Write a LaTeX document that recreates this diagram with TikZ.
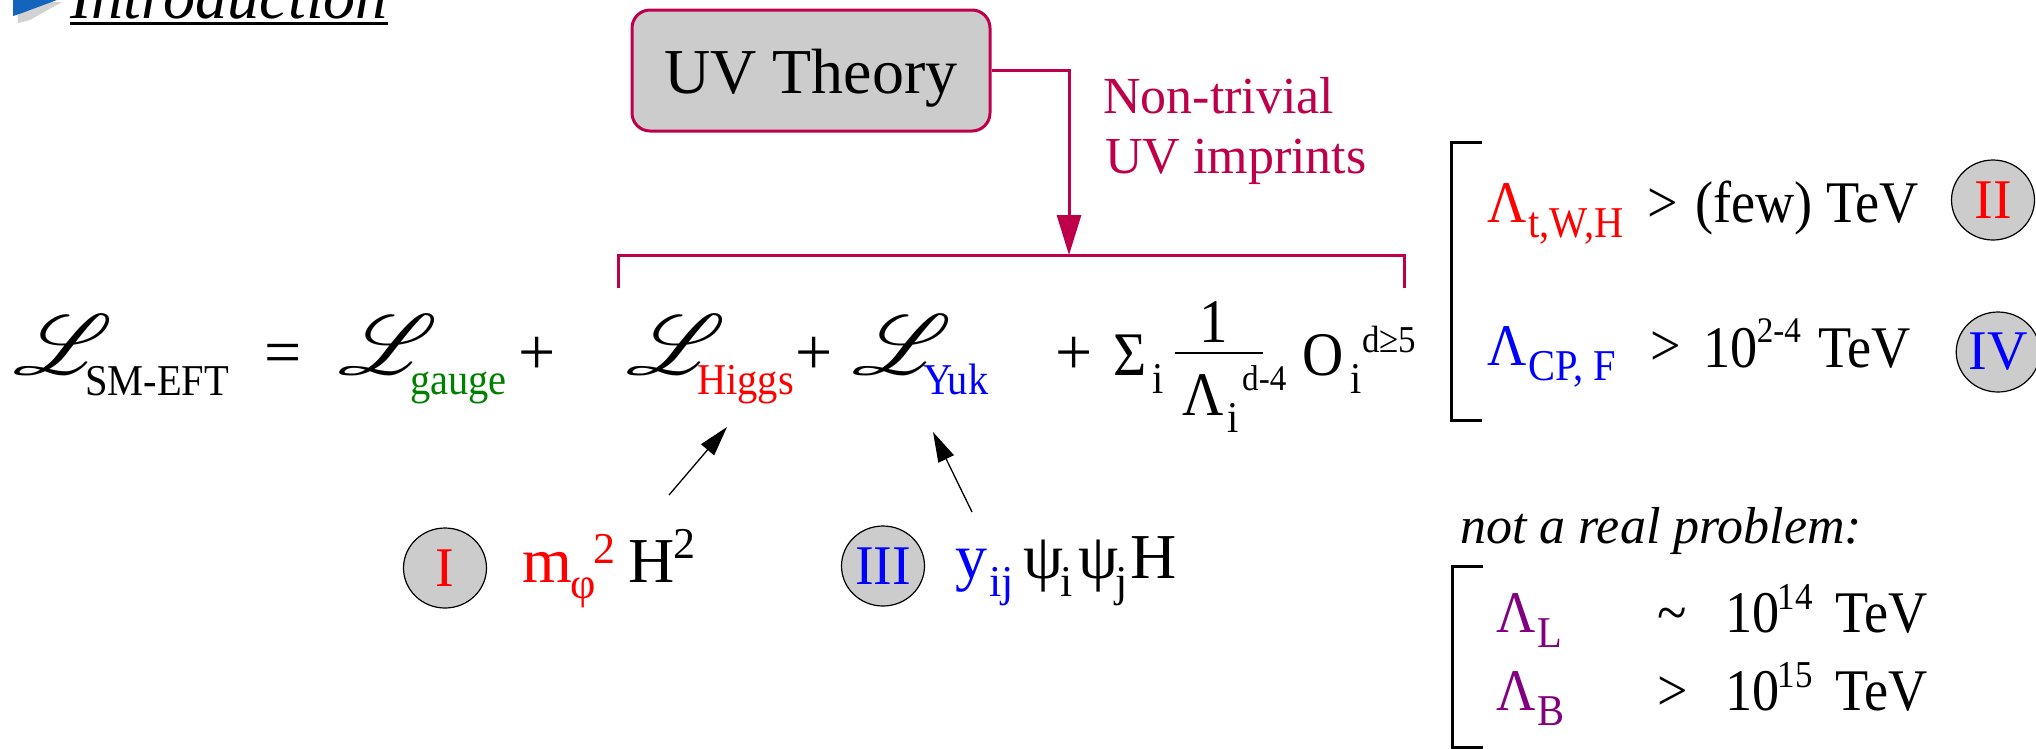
\documentclass[tikz,border=0pt]{standalone}
\usepackage{fontspec}
\setmainfont{Liberation Serif}
\newfontfamily\cf[FakeStretch=0.92]{Liberation Serif}
\usepackage{mathrsfs}
\usepackage{graphicx}
\usetikzlibrary{arrows.meta,shapes.geometric,calc}
\definecolor{crim}{RGB}{190,0,75}
\definecolor{cgray}{RGB}{204,204,204}
\definecolor{cgreen}{RGB}{0,128,0}
\definecolor{cred}{RGB}{255,0,0}
\definecolor{cblue}{RGB}{0,0,255}
\definecolor{cpurp}{RGB}{128,0,128}
\definecolor{iconblue}{RGB}{20,100,190}
\newcommand\fsz[1]{\fontsize{#1}{#1}\selectfont}
\newcommand\scL{\scalebox{9.3}[8.5]{$\mathscr{L}$}}
\begin{document}
\begin{tikzpicture}[x=1pt,y=-1pt,
  t/.style={inner sep=0pt, anchor=base west},
  big/.style={t, font=\cf\fsz{62}},
  med/.style={t, font=\cf\fsz{59}},
  sub/.style={t, font=\cf\fsz{44}},
  sup/.style={t, font=\cf\fsz{36}},
  tiny/.style={t, font=\cf\fsz{38}},
  low/.style={t, font=\fsz{64}},
  lowsub/.style={t, font=\fsz{44}},
  circ/.style={ellipse, draw=black, line width=1.2pt, fill=cgray, minimum width=83pt, minimum height=80pt, inner sep=0pt, font=\fsz{56}},
  brk/.style={line width=3pt},
  crimline/.style={crim, line width=3pt},
  ptr/.style={line width=1.3pt, -{Triangle[length=30pt,width=17pt]}}
]
\useasboundingbox (0,0) rectangle (2036,748);
% title
\fill[gray!35] (17,2) -- (62,2) -- (30,20) -- (18,23) -- cycle;
\fill[iconblue] (13,0) -- (57,0) -- (22,13) -- (13,16) -- cycle;
\node[t, font=\fsz{64}\itshape] (intro) at (70,18) {Introduction};
\draw[line width=3pt] ([yshift=-5pt]intro.base west) -- ([yshift=-5pt]intro.base east);
% UV box
\node[draw=crim, line width=3pt, fill=cgray, rounded corners=18pt, minimum width=358pt, minimum height=121pt, inner sep=0pt, font=\fsz{64}, text height=50pt, text depth=4pt] (uv) at (811,70.5) {UV Theory};
\coordinate (tip) at (1069,255);
\draw[crimline, -{Triangle[length=40pt,width=24pt]}] (uv.east) -| (tip);
\coordinate (bl) at (618,288);
\coordinate (br) at (1404,288);
\draw[crimline] (bl) -- (618,255) -- (1404,255) -- (br);
\node[t, crim, font=\fsz{52}] (nt1) at (1103,113) {Non-trivial};
\node[t, crim, font=\fsz{52}] (nt2) at (1105,173) {UV imprints};
% equation
\node[t] (L1) at (13,374) {\scL};
\node[sub] (sSM) at (85,395) {SM-EFT};
\node[t, font=\fsz{66}] (eq) at (264,374) {=};
\node[t] (L2) at (338,374) {\scL};
\node[sub, cgreen] (sg) at (410,394) {gauge};
\node[t, font=\fsz{66}] (p1) at (518,374) {+};
\node[t] (L3) at (626,374) {\scL};
\node[sub, cred] (sh) at (697,394) {Higgs};
\node[t, font=\fsz{66}] (p2) at (795,374) {+};
\node[t] (L4) at (852,374) {\scL};
\node[sub, cblue] (sy) at (923,394) {Yuk};
\node[t, font=\fsz{66}] (p3) at (1055,374) {+};
\node[big] (sig) at (1113,375) {Σ};
\node[sub] (si1) at (1152,393) {i};
\node[big, anchor=base] (one) at (1214,342) {1};
\draw[line width=2pt] (1175,353) -- (1263,353);
\node[big] (lam) at (1182,415) {Λ};
\node[sub] (si2) at (1227,432) {i};
\node[sup] (d4) at (1242,390) {d-4};
\node[big] (O) at (1302,375) {O};
\node[sub] (si3) at (1350,393) {i};
\node[sup, font=\cf\fsz{38}] (d5) at (1362,352) {d≥5};
% right bracket 1
\draw[brk] (1482,142) -- (1451,142) -- (1451,420) -- (1482,420);
\node[med, cred] (l1) at (1487,222) {Λ};
\node[sub, cred] (l1s) at (1528,237) {t,W,H};
\node[med] (gt1) at (1647,222) {>};
\node[med] (few) at (1695,222) {(few) TeV};
\node[circ, text=cred] (c2) at (1993,200) {II};
\node[med, cblue] (l2) at (1487,365) {Λ};
\node[sub, cblue] (l2s) at (1528,380) {CP, F};
\node[med] (gt2) at (1650,365) {>};
\node[med] (ten1) at (1703,367) {10};
\node[sup] (e1) at ($(ten1.base east)+(-1,-25)$) {2-4};
\node[med] (tev1) at (1818,367) {TeV};
\node[circ, text=cblue] (c4) at (1998,352) {IV};
% lower terms
\node[circ, text=cred] (c1) at (445,568) {I};
\node[low, cred] (m) at (522,582) {m};
\node[lowsub, cred] (phi) at (570,598) {φ};
\node[lowsub, cred] (m2) at (593,563) {2};
\node[low] (H) at (628,582) {H};
\node[lowsub] (H2) at (673,558) {2};
\node[circ, text=cblue] (c3) at (883,566) {III};
\node[low, cblue] (y) at (955,578) {y};
\node[lowsub, cblue] (ij) at (989,596) {ij};
\node[low] (psi) at (1023,578) {ψ};
\node[lowsub] (pi) at (1060,596) {i};
\node[low] (psi2) at (1078,578) {ψ};
\node[lowsub] (pj) at (1115,596) {j};
\node[low] (HH) at (1130,578) {H};
\coordinate (a1s) at (669,495);
\coordinate (a1e) at (727,427);
\coordinate (a2s) at (972,512);
\coordinate (a2e) at (933,432);
\draw[ptr] (a1s) -- (a1e);
\draw[ptr] (a2s) -- (a2e);
% not a real problem
\node[t, font=\fsz{52}\itshape] (nrp) at (1460,543) {not a real problem:};
\draw[brk] (1483,566) -- (1452,566) -- (1452,747) -- (1483,747);
\node[med, cpurp] (lL) at (1496,632) {Λ};
\node[sub, cpurp] (lLs) at (1537,647) {L};
\node[med] (sim) at (1657,632) {\textasciitilde};
\node[med] (t14) at (1725,632) {10};
\node[tiny] (e14) at ($(t14.base east)+(-2,-23)$) {14};
\node[med] (tev14) at (1835,632) {TeV};
\node[med, cpurp] (lB) at (1496,710) {Λ};
\node[sub, cpurp] (lBs) at (1537,725) {B};
\node[med] (gt3) at (1657,710) {>};
\node[med] (t15) at (1725,710) {10};
\node[tiny] (e15) at ($(t15.base east)+(-2,-23)$) {15};
\node[med] (tev15) at (1835,710) {TeV};
\end{tikzpicture}
\end{document}
